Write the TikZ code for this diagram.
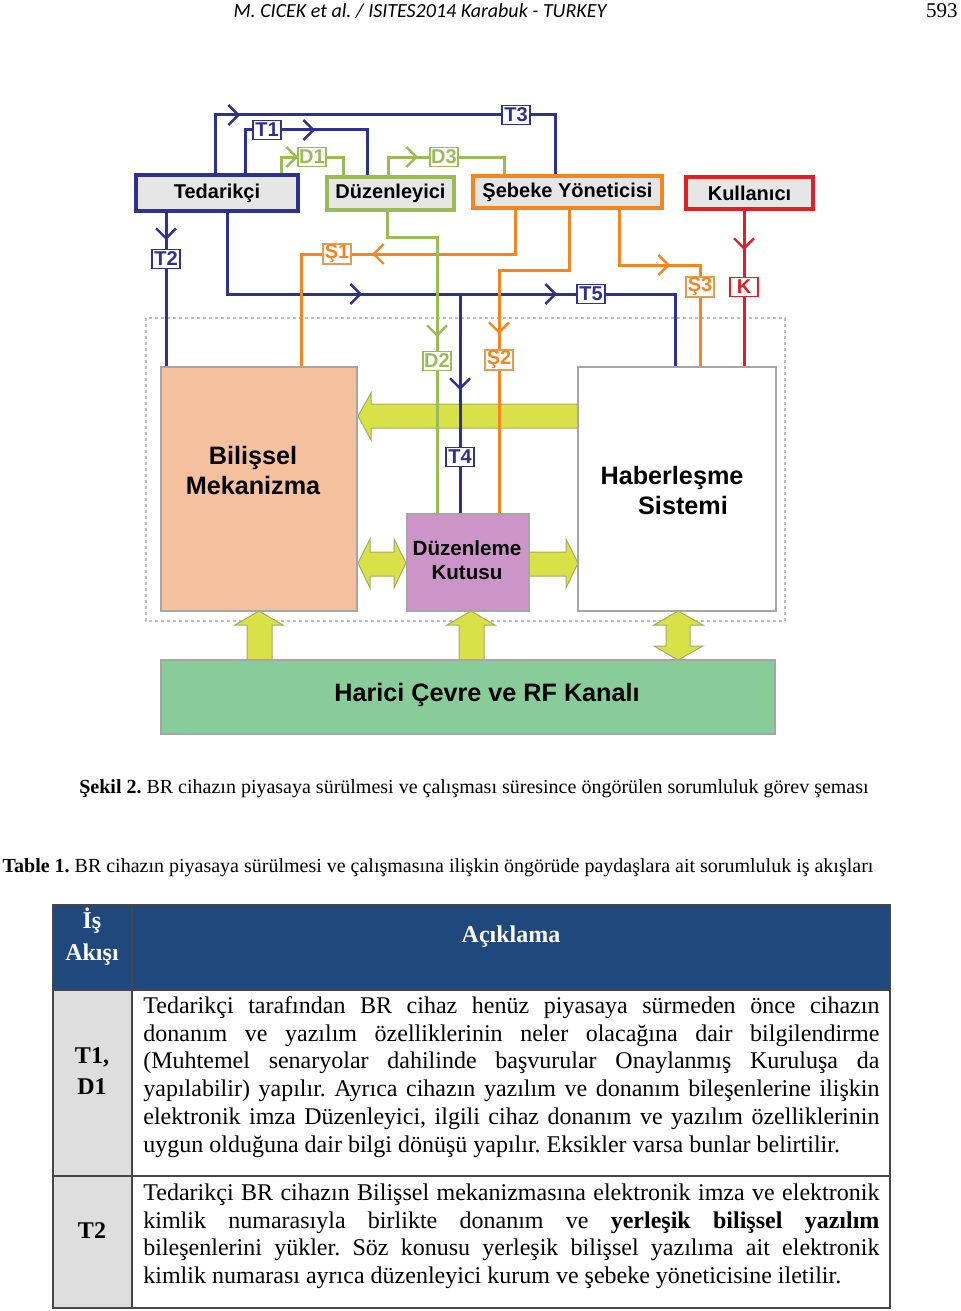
\documentclass[tikz,border=0pt]{standalone}
\usepackage{fontspec}
\setmainfont{Liberation Serif}
\newfontfamily\arialfont{Liberation Sans}
\newfontfamily\calibrifont{Carlito}
\usetikzlibrary{arrows.meta,calc,decorations.markings}
\frenchspacing

\definecolor{tblue}{RGB}{46,49,146}
\definecolor{dgreen}{RGB}{155,187,89}
\definecolor{sorange}{RGB}{245,134,31}
\definecolor{stan}{RGB}{222,160,80}
\definecolor{kred}{RGB}{228,30,38}
\definecolor{boxgray}{RGB}{230,230,230}
\definecolor{peach}{RGB}{245,192,158}
\definecolor{lilac}{RGB}{204,148,200}
\definecolor{mint}{RGB}{136,204,153}
\definecolor{lime}{RGB}{217,225,72}
\definecolor{limeedge}{RGB}{165,172,95}
\definecolor{navyhead}{RGB}{31,73,125}
\definecolor{cellgray}{RGB}{222,222,222}
\definecolor{rulegray}{RGB}{70,70,70}

\tikzset{
  actor/.style={draw=#1, line width=2pt, fill=boxgray, inner sep=0pt,
    font=\arialfont\bfseries\fontsize{10}{12}\selectfont},
  flow/.style={draw=#1, line width=1.5pt},
  chev/.style={postaction={decorate,decoration={markings,
    mark=at position #1 with {\arrow{Straight Barb[length=5pt,width=10pt,line width=1.2pt]}}}}},
  tag/.style={draw=#1, fill=white, line width=0.6pt, inner sep=0.5pt,
    minimum width=14pt, minimum height=9.5pt, text=#1,
    font=\arialfont\bfseries\fontsize{10}{10}\selectfont},
  block/.style={draw=gray!70, line width=0.7pt, inner sep=0pt},
  blocktext/.style={align=center, font=\arialfont\bfseries\fontsize{12.6}{15}\selectfont},
  fatarrow/.style={fill=lime, draw=limeedge, line width=0.5pt},
  headtxt/.style={align=center, text=white, font=\bfseries\fontsize{12}{16}\selectfont},
  celltxt/.style={align=center, font=\bfseries\fontsize{12}{15.5}\selectfont},
  para/.style={anchor=north west, inner sep=0pt, text width=368pt, align=justify,
    font=\fontsize{12}{13.9}\selectfont},
}

\begin{document}
\begin{tikzpicture}[x=0.5pt,y=-0.5pt]
\useasboundingbox (0,0) rectangle (960,1311);

% running head
\node[font=\calibrifont\itshape\fontsize{10}{12}\selectfont] (runhead) at (420,11) {M. CICEK et al. / ISITES2014 Karabuk - TURKEY};
\node[anchor=east, inner sep=0pt, font=\fontsize{10.5}{12}\selectfont] (pageno) at (958,11) {593};

% device frame
\draw[dash pattern=on 1.5pt off 1.5pt, draw=gray!50, line width=0.8pt] (146,318) rectangle (785,621);

% yellow block arrows
\filldraw[fatarrow] (358,416) -- (371,393) -- (371,404) -- (578,404) -- (578,428) -- (371,428) -- (371,440) -- cycle;
\filldraw[fatarrow] (358,563) -- (370,539) -- (370,552) -- (394,552) -- (394,539) -- (406,563)
  -- (394,588) -- (394,576) -- (370,576) -- (370,588) -- cycle;
\filldraw[fatarrow] (529,552) -- (566,552) -- (566,539) -- (578,563) -- (566,588) -- (566,576) -- (529,576) -- cycle;
\filldraw[fatarrow] (259,611) -- (283,625) -- (272,625) -- (272,660) -- (247,660) -- (247,625) -- (235,625) -- cycle;
\filldraw[fatarrow] (471,611) -- (495,625) -- (484,625) -- (484,660) -- (459,660) -- (459,625) -- (447,625) -- cycle;
\filldraw[fatarrow] (678,611) -- (703,625) -- (690,625) -- (690,646) -- (703,646) -- (678,660)
  -- (654,646) -- (666,646) -- (666,625) -- (654,625) -- cycle;

% blocks of the device
\node[block, fill=peach, minimum width=98pt, minimum height=122pt] (bil) at (259,489) {};
\node[blocktext] (biltxt) at (253,470) {Bilişsel\\Mekanizma};
\node[block, fill=lilac, minimum width=61pt, minimum height=48.5pt] (dk) at (468,562.5) {};
\node[blocktext, font=\arialfont\bfseries\fontsize{10.3}{12}\selectfont] (dktxt) at (467,560) {Düzenleme\\Kutusu};
\node[block, fill=white, minimum width=99pt, minimum height=122pt] (hab) at (677,489) {};
\node[blocktext] (habtxt) at (672,490) {Haberleşme\\\hspace*{11pt}Sistemi};
\node[block, fill=mint, minimum width=307pt, minimum height=37pt] (har) at (468,697) {};
\node[blocktext] (hartxt) at (487,695) {Harici Çevre ve RF Kanalı};

% stakeholders
\node[actor=tblue, minimum width=81pt, minimum height=18pt] (ted) at (217,193) {Tedarikçi};
\node[actor=dgreen, minimum width=63.5pt, minimum height=16.5pt] (duz) at (390.5,193.5) {Düzenleyici};
\node[actor=sorange, minimum width=94.5pt, minimum height=16pt] (seb) at (567.5,192) {Şebeke Yöneticisi};
\node[actor=kred, minimum width=63.5pt, minimum height=16pt] (kul) at (749.5,193) {Kullanıcı};

% label points
\coordinate (pT1) at (267,130);
\coordinate (pT3) at (516,115);
\coordinate (pD1) at (312,157);
\coordinate (pD3) at (444,157);
\coordinate (pT2) at (166,259);
\coordinate (pS1) at (337,254);
\coordinate (pT5) at (591,294);
\coordinate (pS3) at (700,287);
\coordinate (pK) at (744,287);
\coordinate (pD2) at (437,361);
\coordinate (pS2) at (499,360);
\coordinate (pT4) at (460,457);
\coordinate (jT4) at (pT4 |- pT5);

% flows
\draw[flow=tblue, chev=41.5pt] ([xshift=-1pt]ted.north) |- (pT3) -| ([xshift=-6.25pt]seb.north);
\draw[flow=tblue, chev=56.5pt] ([xshift=14pt]ted.north) |- (pT1) -| ([xshift=-11.75pt]duz.north);
\draw[flow=dgreen, chev=16.5pt] ([xshift=32pt]ted.north) |- (pD1) -| ([xshift=-23.75pt]duz.north);
\draw[flow=dgreen, chev=24pt] ([xshift=-1.25pt]duz.north) |- (pD3) -| ([xshift=-31.75pt]seb.north);
\draw[flow=tblue, chev=13.5pt] (pT2 |- ted.south) -- (pT2 |- bil.north);
\draw[flow=tblue, chev=108pt, chev=205.5pt] ([xshift=5pt]ted.south) |- (pT5) -| ([xshift=-1pt]hab.north);
\draw[flow=tblue, chev=48pt] (jT4) -- (pT4 |- dk.north);
\draw[flow=sorange, chev=93.5pt] ([xshift=-26.25pt]seb.south) |- (pS1) -| ([xshift=21pt]bil.north);
\draw[flow=sorange, chev=97pt] ([xshift=0.75pt]seb.south) -- ++(0,60) -| (pS2 |- dk.north);
\draw[flow=sorange, chev=53pt] ([xshift=25.75pt]seb.south) -- ++(0,55) -| (pS3 |- hab.north);
\draw[flow=kred, chev=19.5pt] (pK |- kul.south) -- (pK |- hab.north);
\draw[flow=dgreen, chev=87.5pt] ([xshift=-1.75pt]duz.south) -- ++(0,25) -| (pD2 |- dk.north);

% flow labels
\node[tag=tblue] (tagT1) at (pT1) {T1};
\node[tag=tblue] (tagT3) at (pT3) {T3};
\node[tag=dgreen] (tagD1) at (pD1) {D1};
\node[tag=dgreen] (tagD3) at (pD3) {D3};
\node[tag=tblue] (tagT2) at (pT2) {T2};
\node[tag=stan, text=sorange] (tagS1) at (pS1) {Ş1};
\node[tag=tblue] (tagT5) at (pT5) {T5};
\node[tag=stan, text=sorange] (tagS3) at (pS3) {Ş3};
\node[tag=kred] (tagK) at (pK) {K};
\node[tag=dgreen] (tagD2) at (pD2) {D2};
\node[tag=stan, text=sorange] (tagS2) at (pS2) {Ş2};
\node[tag=tblue] (tagT4) at (pT4) {T4};

% captions
\node[font=\fontsize{10}{12}\selectfont] (figcap) at (474,789) {\textbf{Şekil 2.} BR cihazın piyasaya sürülmesi ve çalışması süresince öngörülen sorumluluk görev şeması};
\node[font=\fontsize{10}{12}\selectfont] (tabcap) at (438,868) {\textbf{Table 1.} BR cihazın piyasaya sürülmesi ve çalışmasına ilişkin öngörüde paydaşlara ait sorumluluk iş akışları};

% table
\fill[navyhead] (53,905) rectangle (890,990);
\fill[cellgray] (53,990) rectangle (132,1308);
\draw[rulegray, line width=0.7pt] (53,905) rectangle (890,1308);
\draw[rulegray, line width=0.7pt] (132,905) -- (132,1308);
\draw[rulegray, line width=0.7pt] (53,990) -- (890,990);
\draw[rulegray, line width=0.7pt] (53,1176) -- (890,1176);

\node[headtxt] (hdflow) at (92,937) {İş\\Akışı};
\node[headtxt] (hdnote) at (511,937) {Açıklama};
\node[celltxt] (cellone) at (92,1071) {T1,\\D1};
\node[celltxt] (celltwo) at (92,1231) {T2};

\node[para] (rowone) at (143,993.5) {\strut Tedarikçi tarafından BR cihaz henüz piyasaya sürmeden önce cihazın\linebreak
donanım ve yazılım özelliklerinin neler olacağına dair bilgilendirme\linebreak
(Muhtemel senaryolar dahilinde başvurular Onaylanmış Kuruluşa da\linebreak
yapılabilir) yapılır. Ayrıca cihazın yazılım ve donanım bileşenlerine ilişkin\linebreak
elektronik imza Düzenleyici, ilgili cihaz donanım ve yazılım özelliklerinin\linebreak
uygun olduğuna dair bilgi dönüşü yapılır. Eksikler varsa bunlar belirtilir.};
\node[para] (rowtwo) at (143,1180.5) {\strut Tedarikçi BR cihazın Bilişsel mekanizmasına elektronik imza ve elektronik\linebreak
kimlik numarasıyla birlikte donanım ve \textbf{yerleşik bilişsel yazılım}\linebreak
bileşenlerini yükler. Söz konusu yerleşik bilişsel yazılıma ait elektronik\linebreak
kimlik numarası ayrıca düzenleyici kurum ve şebeke yöneticisine iletilir.};
\end{tikzpicture}
\end{document}
